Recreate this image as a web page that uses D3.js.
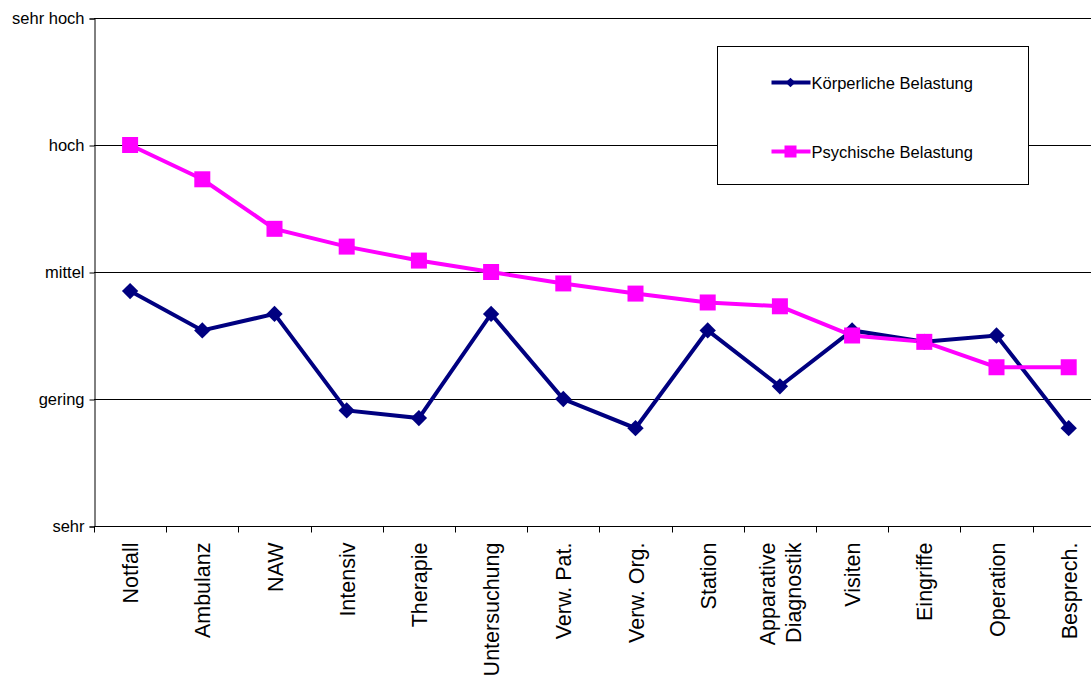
<!DOCTYPE html>
<html>
<head>
<meta charset="utf-8">
<script src="https://cdn.jsdelivr.net/npm/d3@7"></script>
<style>
body{margin:0;background:#fff;overflow:hidden;}
text{font-family:"Liberation Sans",Arial,sans-serif;fill:#000;}
</style>
</head>
<body>
<div id="chart"></div>
<script>
// categories (line breaks with \n)
var categories=["Notfall","Ambulanz","NAW","Intensiv","Therapie","Untersuchung","Verw. Pat.","Verw. Org.","Station","Apparative\nDiagnostik","Visiten","Eingriffe","Operation","Besprech."];
var koerperlich=[1.85,1.54,1.67,0.91,0.85,1.67,1.0,0.77,1.54,1.10,1.54,1.45,1.50,0.77];
var psychisch=[3.0,2.73,2.34,2.20,2.09,2.0,1.91,1.83,1.76,1.73,1.50,1.45,1.25,1.25];
var levelLabels=["sehr","gering","mittel","hoch","sehr hoch"];
var seriesNames=["Körperliche Belastung","Psychische Belastung"];

var width=1091,height=675;
var margin={left:94,top:18,bottom:149};
var bandW=72.2;
var svg=d3.select("#chart").append("svg").attr("width",width).attr("height",height);

// plot extends past the right edge of the picture
var x=d3.scaleBand().domain(categories).range([margin.left,margin.left+bandW*categories.length]);
var y=d3.scaleLinear().domain([0,4]).range([height-margin.bottom,margin.top]);

// gridlines
svg.append("g").selectAll("line").data(d3.range(1,5)).enter().append("line")
	.attr("x1",margin.left).attr("x2",width)
	.attr("y1",function(d){return y(d)+0.5;}).attr("y2",function(d){return y(d)+0.5;})
	.attr("stroke","#000").attr("stroke-width",1);

// y axis
var yAxis=d3.axisLeft(y).tickValues(d3.range(0,5)).tickFormat(function(d){return levelLabels[d];}).tickSize(5).tickPadding(5);
var ga=svg.append("g").attr("transform","translate("+(margin.left+0.5)+",0.5)").call(yAxis);
ga.select(".domain").attr("stroke","#000");
ga.selectAll("text").style("font-size","16.5px").style("font-family","'Liberation Sans',Arial,sans-serif");

// x axis: line plus ticks at band boundaries
var baseY=y(0)+0.5;
svg.append("line").attr("x1",margin.left).attr("x2",width).attr("y1",baseY).attr("y2",baseY).attr("stroke","#000");
svg.append("g").selectAll("line").data(categories).enter().append("line")
	.attr("x1",function(d){return Math.round(x(d))+0.5;}).attr("x2",function(d){return Math.round(x(d))+0.5;})
	.attr("y1",baseY).attr("y2",baseY+6).attr("stroke","#000");

// category labels rotated
var labs=svg.append("g").selectAll("text").data(categories).enter().append("text")
	.attr("transform",function(d){
		var lines=d.split("\n").length;
		return "translate("+(x(d)+x.bandwidth()/2+8-(lines-1)*13)+","+(baseY+16)+") rotate(-90)";
	})
	.attr("text-anchor","end")
	.style("font-size","21.5px");
labs.each(function(d){
	var t=d3.select(this);
	d.split("\n").forEach(function(s,i){
		t.append("tspan").attr("x",0).attr("dy",i==0?0:26).text(s);
	});
});

// series
var line=d3.line().x(function(d,i){return x(categories[i])+x.bandwidth()/2;}).y(function(d){return y(d);});
svg.append("path").datum(koerperlich).attr("d",line).attr("fill","none").attr("stroke","#000080").attr("stroke-width",4);
svg.append("path").datum(psychisch).attr("d",line).attr("fill","none").attr("stroke","#FF00FF").attr("stroke-width",4);

var diamond=d3.symbol().type(d3.symbolDiamond2).size(170);
svg.append("g").selectAll("path").data(koerperlich).enter().append("path")
	.attr("d",diamond)
	.attr("transform",function(d,i){return "translate("+(x(categories[i])+x.bandwidth()/2)+","+y(d)+")";})
	.attr("fill","#000080");
svg.append("g").selectAll("rect").data(psychisch).enter().append("rect")
	.attr("x",function(d,i){return x(categories[i])+x.bandwidth()/2-8;})
	.attr("y",function(d){return y(d)-8;})
	.attr("width",16).attr("height",16)
	.attr("fill","#FF00FF");

// legend
var lg=svg.append("g").attr("transform","translate(717.5,46.5)");
lg.append("rect").attr("width",311).attr("height",138).attr("fill","#fff").attr("stroke","#000");
var colors=["#000080","#FF00FF"];
seriesNames.forEach(function(n,i){
	var ly=36+i*69;
	lg.append("line").attr("x1",54).attr("x2",93).attr("y1",ly).attr("y2",ly).attr("stroke",colors[i]).attr("stroke-width",4);
	if(i==0){
		lg.append("path").attr("d",d3.symbol().type(d3.symbolDiamond2).size(60)).attr("transform","translate(73,"+ly+")").attr("fill",colors[i]);
	}else{
		lg.append("rect").attr("x",67).attr("y",ly-6).attr("width",12).attr("height",12).attr("fill",colors[i]);
	}
	lg.append("text").attr("x",94).attr("y",ly+6).style("font-size","16.5px").text(n);
});
</script>
</body>
</html>
